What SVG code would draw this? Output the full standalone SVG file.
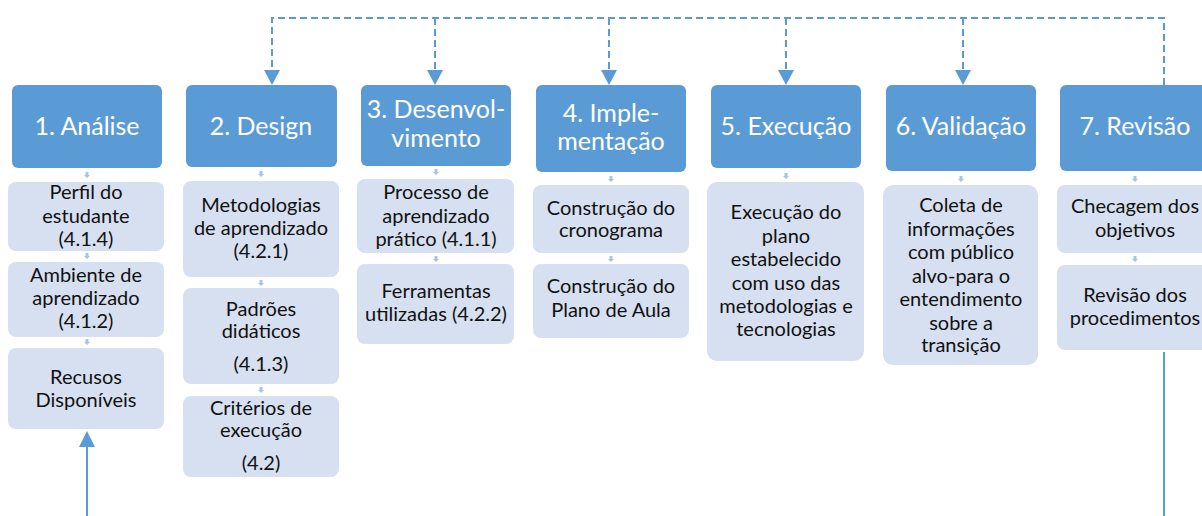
<svg xmlns="http://www.w3.org/2000/svg" width="1202" height="516" viewBox="0 0 1202 516">
<defs>
<style>
.hd{fill:#5B9BD5;}
.sb{fill:#D6E0F0;}
.ht{font-family:Lato,"Liberation Sans",sans-serif;font-size:25px;fill:#FFFFFF;text-anchor:middle;}
.st{font-family:Lato,"Liberation Sans",sans-serif;font-size:20px;fill:#111111;text-anchor:middle;}
.dash{fill:none;stroke:#5B9BD5;stroke-width:2;stroke-dasharray:7 4;}
.solid{fill:none;stroke:#5B9BD5;stroke-width:2;}
.stub{fill:#A9C3E6;}
</style>
<marker id="ah" viewBox="0 0 16 15" refX="8" refY="15" markerWidth="16" markerHeight="15" markerUnits="userSpaceOnUse" orient="auto-start-reverse">
<path d="M0,0 L16,0 L8,15 Z" fill="#5B9BD5"/>
</marker>
<path id="stb" d="M-1.5,0 h3 v3 h1.5 l-3,3 l-3,-3 h1.5 Z"/>
</defs>
<rect width="1202" height="516" fill="#FFFFFF"/>

<g id="connectors">
<path class="dash" d="M1164,85 V18 H272 V70"/>
<path d="M264,70 L280,70 L272,85 Z" fill="#5B9BD5"/>
<path class="dash" d="M435,18 V70"/>
<path d="M427,70 L443,70 L435,85 Z" fill="#5B9BD5"/>
<path class="dash" d="M609,18 V70"/>
<path d="M601,70 L617,70 L609,85 Z" fill="#5B9BD5"/>
<path class="dash" d="M786,18 V70"/>
<path d="M778,70 L794,70 L786,85 Z" fill="#5B9BD5"/>
<path class="dash" d="M963,18 V70"/>
<path d="M955,70 L971,70 L963,85 Z" fill="#5B9BD5"/>
<path class="solid" d="M87,516 V446"/>
<path d="M79,447 L95,447 L87,431 Z" fill="#5B9BD5"/>
<path class="solid" d="M1164,352 V516"/>
<g class="stub">
<use href="#stb" x="87" y="172"/><use href="#stb" x="87" y="253"/><use href="#stb" x="87" y="339"/>
<use href="#stb" x="261" y="171"/><use href="#stb" x="261" y="280"/><use href="#stb" x="261" y="387"/>
<use href="#stb" x="436" y="169"/><use href="#stb" x="436" y="256"/>
<use href="#stb" x="611" y="176"/><use href="#stb" x="611" y="256"/>
<use href="#stb" x="786" y="173"/>
<use href="#stb" x="961" y="176"/>
<use href="#stb" x="1135" y="176"/><use href="#stb" x="1135" y="256"/>
</g>
</g>

<g id="n1">
<rect class="hd" x="12" y="85" width="150" height="83" rx="6"/>
<text class="ht" x="87" y="135">1. Análise</text>
</g>
<g id="n1a"><rect class="sb" x="8" y="182" width="156" height="69" rx="8"/>
<text class="st" x="86" y="199">Perfil do</text><text class="st" x="86" y="223">estudante</text><text class="st" x="86" y="246">(4.1.4)</text></g>
<g id="n1b"><rect class="sb" x="8" y="262" width="156" height="75" rx="8"/>
<text class="st" x="86" y="282">Ambiente de</text><text class="st" x="86" y="305">aprendizado</text><text class="st" x="86" y="328">(4.1.2)</text></g>
<g id="n1c"><rect class="sb" x="8" y="348" width="156" height="81" rx="8"/>
<text class="st" x="86" y="384">Recusos</text><text class="st" x="86" y="407">Disponíveis</text></g>

<g id="n2">
<rect class="hd" x="186" y="85" width="151" height="82" rx="6"/>
<text class="ht" x="261" y="135">2. Design</text>
</g>
<g id="n2a"><rect class="sb" x="183" y="181" width="156" height="96" rx="8"/>
<text class="st" x="261" y="212">Metodologias</text><text class="st" x="261" y="235">de aprendizado</text><text class="st" x="261" y="258">(4.2.1)</text></g>
<g id="n2b"><rect class="sb" x="183" y="288" width="156" height="96" rx="8"/>
<text class="st" x="261" y="316">Padrões</text><text class="st" x="261" y="338">didáticos</text><text class="st" x="261" y="371">(4.1.3)</text></g>
<g id="n2c"><rect class="sb" x="183" y="396" width="156" height="81" rx="8"/>
<text class="st" x="261" y="415">Critérios de</text><text class="st" x="261" y="437">execução</text><text class="st" x="261" y="470">(4.2)</text></g>

<g id="n3">
<rect class="hd" x="361" y="85" width="150" height="81" rx="6"/>
<text class="ht" x="436" y="118">3. Desenvol-</text><text class="ht" x="436" y="147">vimento</text>
</g>
<g id="n3a"><rect class="sb" x="357" y="179" width="157" height="74" rx="8"/>
<text class="st" x="436" y="199">Processo de</text><text class="st" x="436" y="223">aprendizado</text><text class="st" x="436" y="246">prático (4.1.1)</text></g>
<g id="n3b"><rect class="sb" x="357" y="264" width="157" height="80" rx="8"/>
<text class="st" x="436" y="298">Ferramentas</text><text class="st" x="436" y="321">utilizadas (4.2.2)</text></g>

<g id="n4">
<rect class="hd" x="536" y="85" width="150" height="87" rx="6"/>
<text class="ht" x="611" y="122">4. Imple-</text><text class="ht" x="611" y="150">mentação</text>
</g>
<g id="n4a"><rect class="sb" x="533" y="185" width="156" height="68" rx="8"/>
<text class="st" x="611" y="215">Construção do</text><text class="st" x="611" y="237">cronograma</text></g>
<g id="n4b"><rect class="sb" x="533" y="264" width="156" height="74" rx="8"/>
<text class="st" x="611" y="293">Construção do</text><text class="st" x="611" y="317">Plano de Aula</text></g>

<g id="n5">
<rect class="hd" x="711" y="85" width="150" height="83" rx="6"/>
<text class="ht" x="786" y="135">5. Execução</text>
</g>
<g id="n5a"><rect class="sb" x="707" y="182" width="157" height="179" rx="10"/>
<text class="st" x="786" y="219">Execução do</text><text class="st" x="786" y="243">plano</text><text class="st" x="786" y="266">estabelecido</text><text class="st" x="786" y="290">com uso das</text><text class="st" x="786" y="313">metodologias e</text><text class="st" x="786" y="336">tecnologias</text></g>

<g id="n6">
<rect class="hd" x="886" y="85" width="150" height="86" rx="6"/>
<text class="ht" x="961" y="135">6. Validação</text>
</g>
<g id="n6a"><rect class="sb" x="883" y="185" width="155" height="180" rx="10"/>
<text class="st" x="961" y="212">Coleta de</text><text class="st" x="961" y="236">informações</text><text class="st" x="961" y="259">com público</text><text class="st" x="961" y="283">alvo-para o</text><text class="st" x="961" y="306">entendimento</text><text class="st" x="961" y="330">sobre a</text><text class="st" x="961" y="352">transição</text></g>

<g id="n7">
<rect class="hd" x="1060" y="85" width="150" height="86" rx="6"/>
<text class="ht" x="1135" y="135">7. Revisão</text>
</g>
<g id="n7a"><rect class="sb" x="1057" y="185" width="156" height="68" rx="8"/>
<text class="st" x="1135" y="213">Checagem dos</text><text class="st" x="1135" y="237">objetivos</text></g>
<g id="n7b"><rect class="sb" x="1057" y="265" width="156" height="85" rx="8"/>
<text class="st" x="1135" y="302">Revisão dos</text><text class="st" x="1135" y="325">procedimentos</text></g>
</svg>
